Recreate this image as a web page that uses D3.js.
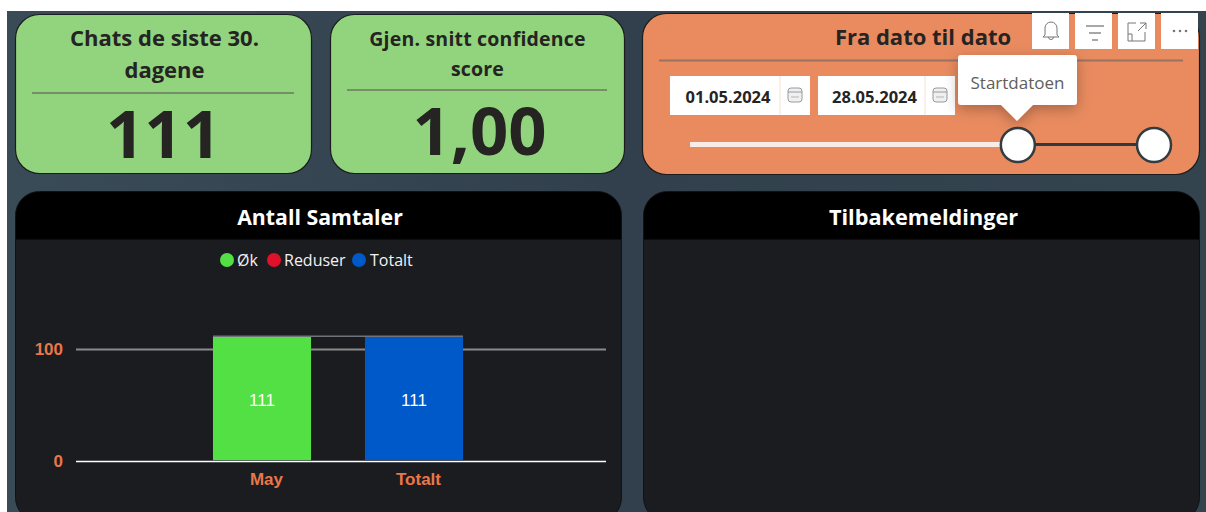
<!DOCTYPE html>
<html><head><meta charset="utf-8">
<script src="https://cdn.jsdelivr.net/npm/d3@7"></script>
<style>html,body{margin:0;padding:0;background:#fff;overflow:hidden}svg{display:block}text{font-family:"Open Sans","Noto Sans",sans-serif}</style>
</head><body><svg id="c" width="1206" height="512"></svg>
<script>
const categories = ["May", "Totalt"];
const values = [111, 111];
const barColors = ["#52E045", "#0059C8"];
const legendLabels = ["Øk", "Reduser", "Totalt"];
const legendColors = ["#52E045", "#E0112B", "#0059C8"];
const yTicks = [0, 100];
const kpiTitles = [["Chats de siste 30.", "dagene"], ["Gjen. snitt confidence", "score"]];
const kpiValues = ["111", "1,00"];
const sliderRange = ["2024-02-26", "2024-05-28"];
const selectedRange = ["2024-05-01", "2024-05-28"];
const dateLabels = ["01.05.2024", "28.05.2024"];

const svg = d3.select("#c");
const dark = "#252423", orange = "#E98B5F", axisOrange = "#E8774A";
const narrow = '"Liberation Sans",sans-serif';

const defs = svg.append("defs");
const g = defs.append("linearGradient").attr("id","bg").attr("x1",0).attr("x2",1).attr("y1",0).attr("y2",0);
g.append("stop").attr("offset","0").attr("stop-color","#3a4b58");
g.append("stop").attr("offset","0.5").attr("stop-color","#31404c");
g.append("stop").attr("offset","1").attr("stop-color","#34444f");
const blur = defs.append("filter").attr("id","sh").attr("x","-30%").attr("y","-30%").attr("width","160%").attr("height","170%");
blur.append("feDropShadow").attr("dx",0).attr("dy",4).attr("stdDeviation",7).attr("flood-color","#000").attr("flood-opacity",.28);

svg.append("rect").attr("x",7).attr("y",11).attr("width",1199).attr("height",501).attr("fill","url(#bg)");

function card(x,y,w,h,fill,r){
  return svg.append("rect").attr("x",x).attr("y",y).attr("width",w).attr("height",h).attr("rx",r||24)
    .attr("fill",fill).attr("stroke","#1c1c1c").attr("stroke-width",1.2);
}
// KPI cards
const kpis = [
 {x:15.5,w:296,y:14.5,h:159,cx:164.5,t:[39,71],rule:93,rx:[32,294],vy:158,fs:22,vfs:67,ls:0,vx:163.5},
 {x:330.5,w:294,y:14.5,h:159,cx:477.5,t:[39,69],rule:90,rx:[347,607],vy:155,fs:19.5,vfs:67,ls:0.2,vx:479.5}
];
kpis.forEach((k,i)=>{
  card(k.x,k.y,k.w,k.h,"#92D37E");
  kpiTitles[i].forEach((line,j)=>svg.append("text").attr("x",k.cx).attr("y",k.t[j]+7).attr("text-anchor","middle")
    .attr("font-size",k.fs).attr("font-weight",700).attr("letter-spacing",k.ls).attr("fill",dark).text(line));
  svg.append("line").attr("x1",k.rx[0]).attr("x2",k.rx[1]).attr("y1",k.rule).attr("y2",k.rule).attr("stroke","#6b7a5f").attr("stroke-width",1.3);
  svg.append("text").attr("x",k.vx).attr("y",k.vy).attr("text-anchor","middle").attr("font-size",k.vfs)
    .attr("font-weight",700).attr("fill",dark).text(kpiValues[i]);
});

// Date slicer card
card(642.5,13.5,557,161,orange);
svg.append("text").attr("x",923).attr("y",45).attr("text-anchor","middle").attr("font-size",22).attr("font-weight",700).attr("fill",dark).text("Fra dato til dato");
svg.append("line").attr("x1",659).attr("x2",1183).attr("y1",60.5).attr("y2",60.5).attr("stroke","#9a7260").attr("stroke-width",2);
[{x:670,w:140,d:780},{x:818,w:137,d:925}].forEach((b,i)=>{
  svg.append("rect").attr("x",b.x).attr("y",76).attr("width",b.w).attr("height",39).attr("fill","#fff");
  svg.append("line").attr("x1",b.d).attr("x2",b.d).attr("y1",76).attr("y2",115).attr("stroke","#f6dfd3");
  svg.append("text").attr("x",(b.x+b.d)/2+3).attr("y",103).attr("text-anchor","middle").attr("font-size",16.5).attr("font-weight",700).attr("fill",dark).text(dateLabels[i]);
  const ix=b.d+(b.x+b.w-b.d)/2;
  svg.append("rect").attr("x",ix-7).attr("y",88).attr("width",14).attr("height",14).attr("rx",3).attr("fill","#eef0f2").attr("stroke","#9a9a9a");
  svg.append("line").attr("x1",ix-7).attr("x2",ix+7).attr("y1",92).attr("y2",92).attr("stroke","#9a9a9a");
  svg.append("line").attr("x1",ix-4).attr("x2",ix+4).attr("y1",97).attr("y2",97).attr("stroke","#b5b5b5");
});
const parse = d3.utcParse("%Y-%m-%d");
const sx = d3.scaleUtc().domain(sliderRange.map(parse)).range([690,1154]);
const [s0,s1] = selectedRange.map(parse);
svg.append("line").attr("x1",sx.range()[0]).attr("x2",sx(s0)).attr("y1",144.5).attr("y2",144.5).attr("stroke","#F8EDE6").attr("stroke-width",5);
svg.append("line").attr("x1",sx(s0)).attr("x2",sx(s1)).attr("y1",144.5).attr("y2",144.5).attr("stroke","#2f3a3e").attr("stroke-width",3);
[s0,s1].forEach(d=>svg.append("circle").attr("cx",sx(d)).attr("cy",145).attr("r",17).attr("fill","#fff").attr("stroke","#333c40").attr("stroke-width",2.5));

// Tooltip
const tip = svg.append("g").attr("filter","url(#sh)");
tip.append("rect").attr("x",958).attr("y",55).attr("width",119).attr("height",50).attr("rx",3).attr("fill","#fff");
tip.append("path").attr("d","M1001 105L1017 121L1033 105Z").attr("fill","#fff");
svg.append("text").attr("x",1017.5).attr("y",89).attr("text-anchor","middle").attr("font-size",17).attr("fill","#605e5c").text("Startdatoen");

// Header icons
[1032,1075,1118,1161].forEach(x=>svg.append("rect").attr("x",x).attr("y",13).attr("width",37).attr("height",36).attr("fill","#fff"));
const ic="#777";
svg.append("path").attr("d","M1045 35V28a6 6 0 0 1 12 0V35l2 2H1043ZM1048.5 37a2.5 2.5 0 0 0 5 0").attr("fill","none").attr("stroke",ic);
[[1086,1104,26],[1089,1101,33],[1092,1098,40]].forEach(l=>svg.append("line").attr("x1",l[0]).attr("x2",l[1]).attr("y1",l[2]).attr("y2",l[2]).attr("stroke",ic).attr("stroke-width",1.3));
svg.append("path").attr("d","M1136 23H1128V41H1145V32M1132 41V34H1128M1138 31L1146 23M1140 23H1146V29").attr("fill","none").attr("stroke",ic);
[1174,1180,1186].forEach(x=>svg.append("circle").attr("cx",x).attr("cy",31).attr("r",1.3).attr("fill",ic));

// Bottom panels
function panel(x,w,title,cx,fs){
  const clipId="clip"+Math.round(x);
  defs.append("clipPath").attr("id",clipId).append("rect").attr("x",x).attr("y",191.5).attr("width",w).attr("height",330).attr("rx",24);
  const p=svg.append("g").attr("clip-path",`url(#${clipId})`);
  p.append("rect").attr("x",x).attr("y",191.5).attr("width",w).attr("height",330).attr("fill","#1B1C20");
  p.append("rect").attr("x",x).attr("y",191.5).attr("width",w).attr("height",48).attr("fill","#000");
  svg.append("rect").attr("x",x).attr("y",191.5).attr("width",w).attr("height",330).attr("rx",24).attr("fill","none").attr("stroke","#101114");
  svg.append("text").attr("x",cx).attr("y",225).attr("text-anchor","middle").attr("font-size",fs).attr("font-weight",700).attr("fill","#fff").text(title);
}
panel(15.5,606,"Antall Samtaler",320,21.3);
panel(643.5,556,"Tilbakemeldinger",923.5,21.7);

// Legend
const legX=[227,274,359], legT=[237,284,370];
legendLabels.forEach((l,i)=>{
  svg.append("circle").attr("cx",legX[i]).attr("cy",260).attr("r",7).attr("fill",legendColors[i]);
  svg.append("text").attr("x",legT[i]).attr("y",266).attr("font-size",16).attr("fill","#f2f2f2").text(l);
});

// Chart
const y = d3.scaleLinear().domain([0,100]).range([461,349]);
const x = d3.scaleBand().domain(categories).range([186,490]).paddingInner(.355).paddingOuter(.1775);
const xL=76,xR=606;
const yAxis = svg.append("g").attr("transform",`translate(${xL},0)`).call(d3.axisLeft(y).tickValues(yTicks).tickSize(-(xR-xL)).tickPadding(13).tickFormat(d3.format("d")));
yAxis.select(".domain").remove();
yAxis.selectAll("line").attr("stroke",d=>d===0?"#fff":"#8a8a8a").attr("stroke-width",d=>d===0?1.6:2.2);
yAxis.selectAll("text").attr("font-size",17).style("font-family",narrow).attr("font-weight",700).attr("fill",axisOrange);

svg.selectAll(".bar").data(categories).join("rect").attr("class","bar")
  .attr("x",d=>x(d)).attr("width",x.bandwidth())
  .attr("y",(d,i)=>y(values[i])).attr("height",(d,i)=>y(0)-y(values[i])-.8)
  .attr("fill",(d,i)=>barColors[i]);
svg.append("line").attr("x1",x(categories[0])).attr("x2",x(categories[1])+x.bandwidth())
  .attr("y1",y(values[0])-.5).attr("y2",y(values[0])-.5).attr("stroke","#70747a").attr("stroke-width",1.6);
svg.selectAll(".val").data(categories).join("text").attr("class","val")
  .attr("x",d=>x(d)+x.bandwidth()/2).attr("y",(d,i)=>y(values[i]/2)+7).attr("text-anchor","middle")
  .attr("font-size",17).style("font-family",narrow).attr("fill","#fff").text((d,i)=>values[i]);
svg.selectAll(".cat").data(categories).join("text").attr("class","cat")
  .attr("x",d=>x(d)+x.bandwidth()/2+4.5).attr("y",485).attr("text-anchor","middle")
  .attr("font-size",17).attr("font-weight",700).style("font-family",narrow).attr("fill",axisOrange).text(d=>d);
</script></body></html>
